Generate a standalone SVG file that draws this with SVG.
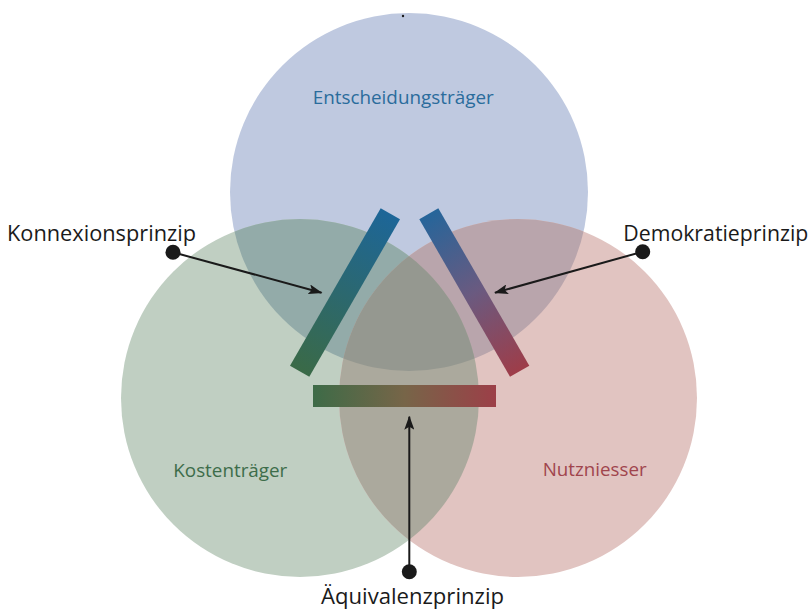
<svg xmlns="http://www.w3.org/2000/svg" width="812" height="612" viewBox="0 0 812 612">
<style>
.lbl{font-family:"Open Sans","Lato","Liberation Sans",sans-serif;font-size:21.5px;fill:#1a1a1a}
.cl{font-family:"Open Sans","Lato","Liberation Sans",sans-serif;font-size:19px}
.con{stroke:#1a1a1a;stroke-width:2;fill:none;marker-end:url(#ah)}
.dot{fill:#1a1a1a}
</style>
<defs>
<marker id="ah" viewBox="0 0 14 10" refX="13" refY="5" markerWidth="14" markerHeight="10" markerUnits="userSpaceOnUse" orient="auto">
<path d="M0,0 L14,5 L0,10 L3,5 Z" fill="#1a1a1a"/>
</marker>
<clipPath id="cT"><circle cx="409" cy="192" r="179"/></clipPath>
<clipPath id="cL"><circle cx="300" cy="398" r="179"/></clipPath>
<clipPath id="cR"><circle cx="518" cy="398" r="179"/></clipPath>
<linearGradient id="gL" gradientUnits="userSpaceOnUse" x1="390" y1="214" x2="300" y2="371">
<stop offset="0" stop-color="#1d6698"/><stop offset="1" stop-color="#3a6a47"/>
</linearGradient>
<linearGradient id="gR" gradientUnits="userSpaceOnUse" x1="429" y1="214" x2="520" y2="371">
<stop offset="0" stop-color="#26659a"/><stop offset="0.5" stop-color="#6a5a80"/><stop offset="1" stop-color="#9e3d49"/>
</linearGradient>
<linearGradient id="gB" gradientUnits="userSpaceOnUse" x1="313" y1="0" x2="496" y2="0">
<stop offset="0" stop-color="#3d6b47"/><stop offset="0.5" stop-color="#776548"/><stop offset="1" stop-color="#9c3f48"/>
</linearGradient>
</defs>
<rect width="812" height="612" fill="#ffffff"/>
<g id="circles">
<circle id="entscheidung" cx="409" cy="192" r="179" fill="#bfc9e0"/>
<circle id="kosten" cx="300" cy="398" r="179" fill="#c0cfc2"/>
<circle id="nutz" cx="518" cy="398" r="179" fill="#e1c4c1"/>
<circle cx="300" cy="398" r="179" fill="#93aba9" clip-path="url(#cT)"/>
<circle cx="518" cy="398" r="179" fill="#b9a5ac" clip-path="url(#cT)"/>
<circle cx="518" cy="398" r="179" fill="#aba99d" clip-path="url(#cL)"/>
<g clip-path="url(#cT)"><circle cx="518" cy="398" r="179" fill="#959890" clip-path="url(#cL)"/></g>
<circle cx="403" cy="16" r="1.2" fill="#1a1a1a"/>
</g>
<g id="bars">
<polygon id="konnexion-bar" points="380.7,208.3 400,219.3 309.3,376.7 290,365.7" fill="url(#gL)"/>
<polygon id="demokratie-bar" points="419.3,219.3 438.3,208.3 529.3,365.7 510,376.7" fill="url(#gR)"/>
<rect id="aequivalenz-bar" x="313" y="385" width="183" height="22" fill="url(#gB)"/>
</g>
<g id="circle-labels">
<text class="cl" x="312.7" y="103.5" textLength="181" lengthAdjust="spacingAndGlyphs" fill="#2a6c9c">Entscheidungsträger</text>
<text class="cl" x="173.3" y="476.7" textLength="114" lengthAdjust="spacingAndGlyphs" fill="#3d6d4a">Kostenträger</text>
<text class="cl" x="542.7" y="476.3" textLength="104" lengthAdjust="spacingAndGlyphs" fill="#a0444d">Nutzniesser</text>
</g>
<g id="connectors">
<line class="con" x1="173" y1="252.3" x2="321.5" y2="292.7"/>
<line class="con" x1="642.7" y1="251.7" x2="495" y2="292.7"/>
<line class="con" x1="409.3" y1="571.7" x2="409.3" y2="416.7"/>
</g>
<g id="konnexionsprinzip">
<circle class="dot" cx="173" cy="252.3" r="7.5"/>
<text class="lbl" x="7" y="241" textLength="189" lengthAdjust="spacingAndGlyphs">Konnexionsprinzip</text>
</g>
<g id="demokratieprinzip">
<circle class="dot" cx="642.7" cy="251.7" r="7.5"/>
<text class="lbl" x="623.3" y="240.5" textLength="185" lengthAdjust="spacingAndGlyphs">Demokratieprinzip</text>
</g>
<g id="aequivalenzprinzip">
<circle class="dot" cx="409.3" cy="571.7" r="7.5"/>
<text class="lbl" x="321" y="604.3" textLength="183" lengthAdjust="spacingAndGlyphs">Äquivalenzprinzip</text>
</g>
</svg>
